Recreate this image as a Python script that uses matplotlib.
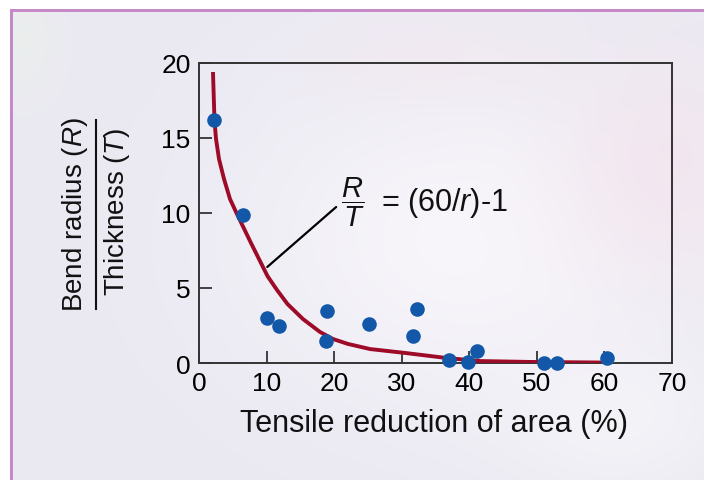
import numpy as np
import matplotlib
matplotlib.use("Agg")
import matplotlib.pyplot as plt
from matplotlib.lines import Line2D

plt.rcParams['font.family'] = ['Liberation Sans', 'DejaVu Sans']
plt.rcParams['mathtext.fontset'] = 'custom'
plt.rcParams['mathtext.rm'] = 'Liberation Sans'
plt.rcParams['mathtext.it'] = 'Liberation Sans:italic'

# --- measured points (tensile reduction of area %, R/T) ---
reduction = [2.2, 6.5, 10.1, 11.8, 18.9, 18.8, 25.2, 31.6, 32.2, 37.0, 39.8, 41.1, 51.1, 53.0, 60.4]
bend_ratio = [16.2, 9.9, 3.0, 2.5, 3.5, 1.5, 2.6, 1.8, 3.6, 0.2, 0.07, 0.8, 0.02, 0.02, 0.33]

# --- fitted curve R/T = (60/r)-1 ---
curve_r = [2.07, 2.29, 2.52, 2.96, 3.70, 4.59, 5.62, 7.77, 8.88, 10.13, 11.54, 13.10,
           15.39, 17.90, 19.83, 22.05, 25.31, 30.49, 36.7, 41.6, 49.0, 60.0]
curve_rt = [19.4, 16.2, 14.93, 13.6, 12.27, 10.93, 9.93, 7.93, 6.93, 5.8, 4.87, 3.93,
            2.93, 2.07, 1.6, 1.27, 0.93, 0.67, 0.33, 0.13, 0.07, 0.03]

x_ticks = [0, 10, 20, 30, 40, 50, 60, 70]
y_ticks = [0, 5, 10, 15, 20]

W, H = 704, 481
fig = plt.figure(figsize=(W / 100, H / 100), dpi=100)

# background panel with soft gradient
bg = fig.add_axes([0, 0, 1, 1], zorder=-5)
yy, xx = np.mgrid[0:H, 0:W]
img = np.ones((H, W, 3)) * np.array([234, 233, 242]) / 255.0

def blend(img, cx, cy, sx, sy, col, w):
    g = w * np.exp(-(((xx - cx) / sx) ** 2 + ((yy - cy) / sy) ** 2))
    return img * (1 - g[..., None]) + np.array(col)[None, None, :] / 255.0 * g[..., None]

img = blend(img, 470, 240, 230, 170, (250, 248, 252), 0.85)
img = blend(img, 660, 170, 110, 120, (244, 226, 236), 0.6)
img = blend(img, 430, 60, 120, 50, (244, 230, 238), 0.45)
img = blend(img, 620, 420, 120, 80, (250, 250, 252), 0.5)
img = blend(img, 20, 40, 40, 60, (236, 242, 232), 0.5)
img[:10, :, :] = 1.0
img[:, :10, :] = 1.0
img[10:13, 10:, :] = np.array([196, 138, 200]) / 255.0
img[10:, 10:13, :] = np.array([196, 138, 200]) / 255.0
bg.imshow(img, aspect='auto', interpolation='bilinear')
bg.axis('off')

ax = fig.add_axes([199 / W, 1 - 364 / H, 473 / W, 300 / H])
ax.patch.set_alpha(0)
ax.set_xlim(0, 70)
ax.set_ylim(0, 20)

ax.plot(curve_r, curve_rt, color='#9E0B28', lw=2.8, solid_joinstyle='round',
        solid_capstyle='butt', zorder=3)
ax.plot(reduction, bend_ratio, 'o', color='#1358A8', ms=10.5, mec='none', clip_on=False, zorder=4)

for s in ax.spines.values():
    s.set_color('#333333')
    s.set_linewidth(1.4)
ax.set_xticks(x_ticks)
ax.set_yticks(y_ticks)
ax.tick_params(direction='in', length=9, width=1.3, color='#333333', labelsize=19, pad=6)
ax.tick_params(axis='x', pad=6)

# equation label with leader line
ax.annotate('', xy=(10.1, 6.4), xytext=(20.3, 10.4),
            arrowprops=dict(arrowstyle='-', color='black', lw=1.6, shrinkA=0, shrinkB=0))
ax.text(22.7, 10.75, r'$\dfrac{\mathit{R}}{\mathit{T}}$', fontsize=21,
        ha='center', va='center', color='#111111')
ax.text(27.0, 10.75, r'= (60/$\mathit{r}$)-1', fontsize=22,
        ha='left', va='center', color='#111111')

fig.text(434 / W, 1 - 424 / H, 'Tensile reduction of area (%)', fontsize=22,
         ha='center', va='center', color='#111111')

# y label as a fraction
fig.text(75 / W, 1 - 215 / H, r'Bend radius ($\mathit{R}$)', fontsize=20, rotation=90,
         ha='center', va='center', color='#111111')
fig.text(117 / W, 1 - 212 / H, r'Thickness ($\mathit{T}$)', fontsize=20, rotation=90,
         ha='center', va='center', color='#111111')
fig.add_artist(Line2D([96 / W, 96 / W], [1 - 121 / H, 1 - 310 / H], color='#111111', lw=1.5))

fig.savefig('out.png', dpi=100)
